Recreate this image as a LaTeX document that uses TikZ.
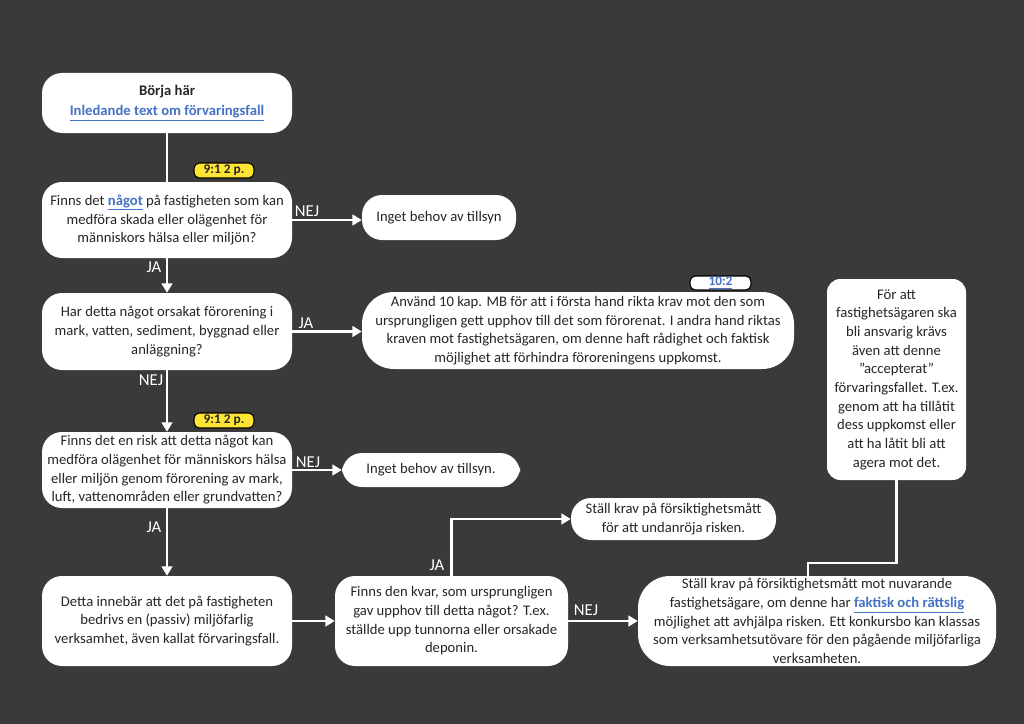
\documentclass[tikz,border=0pt]{standalone}
\usepackage{fontspec}
\setmainfont{Carlito}
\usetikzlibrary{arrows.meta}
\definecolor{bg}{HTML}{3A3A3A}
\definecolor{linkblue}{HTML}{4472C4}
\definecolor{badgeyellow}{HTML}{FFE433}
\definecolor{txt}{HTML}{262626}
\newcommand{\lnk}[1]{\textcolor{linkblue}{\underline{#1}}}
\begin{document}
\begin{tikzpicture}[x=0.75pt,y=-0.75pt,
  sz/.style 2 args={minimum width={#1*0.75pt},minimum height={#2*0.75pt}},
  box/.style={fill=white,draw=none,rounded corners=15pt,align=center,inner sep=0pt,text=txt,font=\fontsize{11}{14}\selectfont},
  conn/.style={draw=white,line width=1.7pt},
  arr/.style={conn,-{Triangle[length=7pt,width=8pt]}},
  lbl/.style={text=white,inner sep=0pt,font=\fontsize{12.5}{14}\selectfont},
  badgebox/.style={draw=black,line width=0.8pt,rounded corners=4pt,inner sep=0pt,text=txt,font=\bfseries\fontsize{10}{11}\selectfont}
]
\fill[bg] (0,0) rectangle (1024,724);

\node[box,sz={250}{60}] (start) at (167,103) {\textbf{Börja här}\\[1pt]\textbf{\lnk{Inledande text om förvaringsfall}}};
\node[box,sz={250}{76}] (q1) at (167,220) {Finns det \textbf{\lnk{något}} på fastigheten som kan\\medföra skada eller olägenhet för\\människors hälsa eller miljön?};
\node[box,sz={154}{45}] (no1) at (439,217.5) {Inget behov av tillsyn};
\node[box,sz={250}{77}] (q2) at (167,331.5) {Har detta något orsakat förorening i\\mark, vatten, sediment, byggnad eller\\anläggning?};
\node[box,sz={432}{77},rounded corners=24pt] (big) at (578,330.5) {Använd 10 kap. MB för att i första hand rikta krav mot den som\\ursprungligen gett upphov till det som förorenat. I andra hand riktas\\kraven mot fastighetsägaren, om denne haft rådighet och faktisk\\möjlighet att förhindra föroreningens uppkomst.};
\node[box,sz={250}{76}] (q3) at (167,470) {Finns det en risk att detta något kan\\medföra olägenhet för människors hälsa\\eller miljön genom förorening av mark,\\luft, vattenområden eller grundvatten?};
\node[box,sz={178}{34}] (no2) at (431,470) {Inget behov av tillsyn.};
\node[box,sz={205}{42}] (act1) at (673.5,519) {Ställ krav på försiktighetsmått\\för att undanröja risken.};
\node[box,sz={250}{90}] (detta) at (167,621) {Detta innebär att det på fastigheten\\bedrivs en (passiv) miljöfarlig\\verksamhet, även kallat förvaringsfall.};
\node[box,sz={233}{90}] (kvar) at (451.5,621) {Finns den kvar, som ursprungligen\\gav upphov till detta något? T.ex.\\ställde upp tunnorna eller orsakade\\deponin.};
\node[box,sz={358}{90},rounded corners=24pt] (act2) at (817,621) {Ställ krav på försiktighetsmått mot nuvarande\\fastighetsägare, om denne har \textbf{\lnk{faktisk och rättslig}}\\möjlighet att avhjälpa risken. Ett konkursbo kan klassas\\som verksamhetsutövare för den pågående miljöfarliga\\verksamheten.};
\node[box,sz={139}{201},rounded corners=10pt] (side) at (896.5,379.5) {För att\\fastighetsägaren ska\\bli ansvarig krävs\\även att denne\\”accepterat”\\förvaringsfallet. T.ex.\\genom att ha tillåtit\\dess uppkomst eller\\att ha låtit bli att\\agera mot det.};

\node[badgebox,fill=badgeyellow,sz={60}{15}] (b1) at (224,170.5) {9:1 2 p.};
\node[badgebox,fill=white,sz={61}{14}] (b2) at (720.5,283) {\lnk{10:2}};
\node[badgebox,fill=badgeyellow,sz={60}{15}] (b3) at (224,420.5) {9:1 2 p.};

\draw[conn] (start) -- (q1);
\draw[arr] (q1.east) -- (q1.east -| no1.west);
\draw[arr] (q1) -- (q2);
\draw[arr] (q2.east) -- (q2.east -| big.west);
\draw[arr] (q2) -- (q3);
\draw[arr] (q3.east) -- (q3.east -| no2.west);
\draw[arr] (q3) -- (detta);
\draw[arr] (detta) -- (kvar);
\draw[arr] (kvar.north) |- (act1.west);
\draw[arr] (kvar) -- (act2);
\coordinate (s1) at (808,563);
\draw[conn] (side.south) |- (s1) -- (s1 |- act2.north);

\node[lbl] (l1) at (307,211) {NEJ};
\node[lbl] (l2) at (154,267) {JA};
\node[lbl] (l3) at (306,323) {JA};
\node[lbl] (l4) at (151,380) {NEJ};
\node[lbl] (l5) at (308,462) {NEJ};
\node[lbl] (l6) at (154,527) {JA};
\node[lbl] (l7) at (437,565) {JA};
\node[lbl] (l8) at (586,610) {NEJ};
\end{tikzpicture}
\end{document}
